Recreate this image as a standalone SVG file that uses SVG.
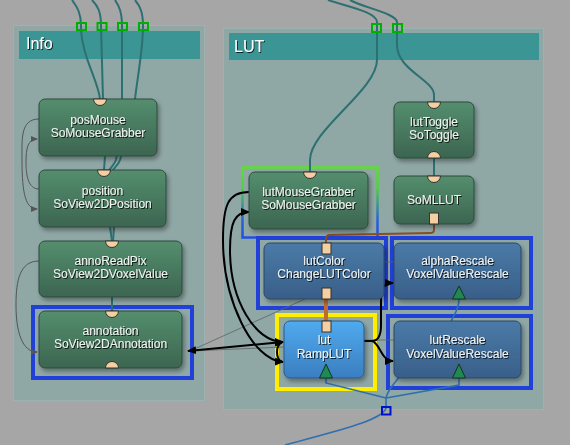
<svg xmlns="http://www.w3.org/2000/svg" width="570" height="445" viewBox="0 0 570 445">
<defs>
<linearGradient id="gG" x1="0" y1="0" x2="0" y2="1"><stop offset="0" stop-color="#548e6e"/><stop offset="1" stop-color="#3c6550"/></linearGradient>
<linearGradient id="gB" x1="0" y1="0" x2="0" y2="1"><stop offset="0" stop-color="#4b7aa8"/><stop offset="1" stop-color="#385f88"/></linearGradient>
<linearGradient id="gL" x1="0" y1="0" x2="0" y2="1"><stop offset="0" stop-color="#50aaee"/><stop offset="1" stop-color="#3a7ec0"/></linearGradient>
<linearGradient id="gSel" x1="0" y1="0" x2="0" y2="1"><stop offset="0" stop-color="#5ce030"/><stop offset="0.3" stop-color="#50d040"/><stop offset="0.75" stop-color="#2a60d8"/><stop offset="1" stop-color="#2050e0"/></linearGradient>
<filter id="sh" x="-20%" y="-20%" width="150%" height="160%"><feDropShadow dx="2" dy="3" stdDeviation="2" flood-color="#000" flood-opacity="0.35"/></filter>
<filter id="ts" x="-10%" y="-30%" width="130%" height="160%"><feDropShadow dx="1" dy="1" stdDeviation="0.4" flood-color="#000" flood-opacity="0.75"/></filter>
<marker id="ab" markerUnits="userSpaceOnUse" markerWidth="9" markerHeight="8" refX="8" refY="4" orient="auto-start-reverse"><path d="M0,0 L9,4 L0,8 Z" fill="#000"/></marker>
<marker id="ag" markerUnits="userSpaceOnUse" markerWidth="7" markerHeight="6" refX="6" refY="3" orient="auto-start-reverse"><path d="M0,0 L7,3 L0,6 Z" fill="#555"/></marker>
<style>
.panel{fill:#8fa7a5;stroke:#9cb2b0;stroke-width:1}
.hdr{fill:#3a9594}
.htxt{font-family:"Liberation Sans",Arial,sans-serif;font-size:16px;fill:#fff;filter:url(#ts)}
.nG{fill:url(#gG);stroke:#2d4a3c;stroke-width:1;filter:url(#sh)}
.nB{fill:url(#gB);stroke:#2b4766;stroke-width:1;filter:url(#sh)}
.nL{fill:url(#gL);stroke:#2b5a88;stroke-width:1;filter:url(#sh)}
.t{font-family:"Liberation Sans",Arial,sans-serif;font-size:12px;fill:#f0f2f0;text-anchor:middle;filter:url(#ts)}
.pin{fill:#f3cfa2;stroke:#333;stroke-width:1}
.tri{fill:#1e8a52;stroke:#17301f;stroke-width:1}
.sq{fill:none;stroke:#00b000;stroke-width:2}
.teal{fill:none;stroke:#2d7072;stroke-width:2}
.blk{fill:none;stroke:#000;stroke-width:2}
.gry{fill:none;stroke:#555;stroke-width:1}
.thin{fill:none;stroke:#5e6464;stroke-width:0.8}
.blu{fill:none;stroke:#2f6fae;stroke-width:1.6}
.sel{fill:none;stroke:#2040d8;stroke-width:4}
</style>
</defs>
<rect x="0" y="0" width="570" height="445" fill="#a6a6a6"/>

<g id="panel-info">
<rect class="panel" x="13.5" y="25.5" width="191" height="375"/>
<rect class="hdr" x="19" y="31" width="181" height="28"/>
<text class="htxt" x="26" y="49">Info</text>
</g>
<g id="panel-lut">
<rect class="panel" x="223.5" y="28.5" width="320" height="381"/>
<rect class="hdr" x="229" y="33" width="310" height="27"/>
<text class="htxt" x="234" y="52">LUT</text>
</g>

<g id="selection">
<rect class="sel" x="33" y="307" width="159" height="71"/>
<rect x="242.5" y="167.5" width="135" height="70" fill="none" stroke="url(#gSel)" stroke-width="2.5"/>
<rect class="sel" x="258" y="238" width="128" height="70"/>
<rect class="sel" x="392" y="238" width="139" height="70"/>
<rect x="277" y="315" width="98" height="74" fill="none" stroke="#ffee00" stroke-width="4"/>
<rect class="sel" x="388" y="316" width="143" height="72"/>
</g>

<g id="connectors">
<path class="teal" d="M72,0 C78,8 81,14 81,26 C81,55 98,80 100,99"/>
<path class="teal" d="M92,0 C98,6 101,12 101,26 L103,99"/>
<path class="teal" d="M115,0 C119,6 122,12 122,26 L122,99 C122,130 118,150 116,160 C114,165 110,168 108,172"/>
<path class="teal" d="M135,0 C140,6 143,12 143,26 C143,50 137,80 135,99 C132,120 124,145 120,160 C118,166 113,168 112,172"/>
<path class="teal" d="M105,156 L104,170"/>
<path class="teal" d="M110,227 L112,241"/>
<path class="teal" d="M114,227 L113,241"/>
<path class="teal" d="M112,297 L112,311"/>
<path class="teal" d="M328,0 C345,6 377,12 377,22 L377,60 C377,90 310,130 310,160 L310,172"/>
<path class="teal" d="M350,0 C365,8 397,14 397,22 L397,45 C397,70 434,80 434,95 L434,102"/>
<path class="teal" d="M434,158 L434,176"/>

<path class="gry" d="M39,119 C20,119 22,140 22,160 C22,195 26,209 37,209" marker-end="url(#ag)"/>
<path class="gry" d="M39,189 C28,189 26,175 26,162 C26,148 28,139 37,139" marker-end="url(#ag)"/>
<path class="gry" d="M39,261 C20,261 16,280 16,305 C16,340 26,352 37,352" marker-end="url(#ag)"/>

<path d="M434,224 L434,230 Q434,233 430,233 L330,235 Q326,235 326,239 L326,243" fill="none" stroke="#8a4e20" stroke-width="2"/>
<path d="M326,299 L326,321" fill="none" stroke="#c06a30" stroke-width="4"/>

<path class="thin" d="M190,351 L305,299"/>
<path class="thin" d="M190,351 L284,347"/>
<path class="thin" d="M384,262 L394,262"/>
<path class="thin" d="M364,340 L394,340"/>

<path class="blk" d="M188,351 L283,342" marker-start="url(#ab)" marker-end="url(#ab)"/>
<path class="blk" d="M249,192 C228,192 223,205 223,240 C223,300 252,360 283,362" marker-end="url(#ab)"/>
<path class="blk" d="M249,212 C235,212 230,222 230,250 C230,300 255,342 283,342" marker-start="url(#ab)" marker-end="url(#ab)"/>
<path class="blk" d="M282,342 C278,344 277,348 277,352 C277,356 278,360 282,362"/>
<path class="blk" d="M364,341 L372,341 C378,341 381,336 381,325 L381,295 C381,287 384,283 393,283" marker-end="url(#ab)"/>
<path class="blk" d="M372,341 C380,343 381,361 393,361" marker-end="url(#ab)"/>

<path class="blu" d="M326,378 L326,383 L386,398"/>
<path class="blu" d="M459,378 L459,385 L386,398"/>
<path class="blu" d="M459,299 C459,311 453,315 451,322 L400,376 C392,386 387,392 386,398"/>
<path class="blu" d="M386,398 L386,408 C383,420 340,430 285,445"/>
</g>

<g id="ports-top">
<rect class="sq" x="77" y="23" width="9" height="7"/>
<rect class="sq" x="97.5" y="23" width="9" height="7"/>
<rect class="sq" x="118" y="23" width="9" height="7"/>
<rect class="sq" x="139" y="23" width="9" height="7"/>
<rect class="sq" x="372" y="24" width="9" height="8"/>
<rect class="sq" x="393" y="24" width="9" height="8"/>
<rect x="382" y="407" width="8.5" height="7.5" fill="none" stroke="#0010d0" stroke-width="2"/>
</g>

<g id="node-posMouse">
<rect class="nG" x="39" y="99" width="118" height="57" rx="6"/>
<path class="pin" d="M93.5,99 A6.5,6.5 0 0 0 106.5,99 Z"/>
<text class="t" x="98" y="124">posMouse</text>
<text class="t" x="98" y="137">SoMouseGrabber</text>
</g>
<g id="node-position">
<rect class="nG" x="39" y="170" width="127" height="57" rx="6"/>
<path class="pin" d="M97.5,170 A6.5,6.5 0 0 0 110.5,170 Z"/>
<text class="t" x="102.5" y="195">position</text>
<text class="t" x="102.5" y="208">SoView2DPosition</text>
</g>
<g id="node-annoReadPix">
<rect class="nG" x="39" y="241" width="143" height="56" rx="6"/>
<path class="pin" d="M105.5,241 A6.5,6.5 0 0 0 118.5,241 Z"/>
<text class="t" x="110.5" y="265">annoReadPix</text>
<text class="t" x="110.5" y="278">SoView2DVoxelValue</text>
</g>
<g id="node-annotation">
<rect class="nG" x="39" y="311" width="143" height="57" rx="6"/>
<path class="pin" d="M105.5,311 A6.5,6.5 0 0 0 118.5,311 Z"/>
<path class="pin" d="M105.5,368 A6.5,6.5 0 0 1 118.5,368 Z"/>
<text class="t" x="110.5" y="335">annotation</text>
<text class="t" x="110.5" y="348">SoView2DAnnotation</text>
</g>

<g id="node-lutMouseGrabber">
<rect class="nG" x="249" y="172" width="119" height="57" rx="6"/>
<path class="pin" d="M303.5,172 A6.5,6.5 0 0 0 316.5,172 Z"/>
<text class="t" x="308.5" y="196">lutMouseGrabber</text>
<text class="t" x="308.5" y="209">SoMouseGrabber</text>
</g>
<g id="node-lutToggle">
<rect class="nG" x="394" y="102" width="80" height="56" rx="6"/>
<path class="pin" d="M427.5,102 A6.5,6.5 0 0 0 440.5,102 Z"/>
<path class="pin" d="M427.5,158 A6.5,6.5 0 0 1 440.5,158 Z"/>
<text class="t" x="434" y="126">lutToggle</text>
<text class="t" x="434" y="139">SoToggle</text>
</g>
<g id="node-SoMLLUT">
<rect class="nG" x="394" y="176" width="80" height="48" rx="6"/>
<path class="pin" d="M427.5,176 A6.5,6.5 0 0 0 440.5,176 Z"/>
<rect class="pin" x="429.5" y="213" width="9" height="11"/>
<text class="t" x="434" y="203.5">SoMLLUT</text>
</g>
<g id="node-lutColor">
<rect class="nB" x="264" y="243" width="120" height="56" rx="6"/>
<rect class="pin" x="322" y="243" width="9" height="11"/>
<rect class="pin" x="322" y="288" width="9" height="11"/>
<text class="t" x="324" y="265">lutColor</text>
<text class="t" x="324" y="278">ChangeLUTColor</text>
</g>
<g id="node-alphaRescale">
<rect class="nB" x="394" y="243" width="127" height="56" rx="6"/>
<path class="tri" d="M452.5,299 L459,286 L465.5,299 Z"/>
<text class="t" x="457.5" y="265">alphaRescale</text>
<text class="t" x="457.5" y="278">VoxelValueRescale</text>
</g>
<g id="node-lut">
<rect class="nL" x="284" y="321" width="80" height="57" rx="6"/>
<rect class="pin" x="322" y="321" width="9" height="11"/>
<path class="tri" d="M319.5,378 L326,364 L332.5,378 Z"/>
<text class="t" x="324" y="344">lut</text>
<text class="t" x="324" y="358">RampLUT</text>
</g>
<g id="node-lutRescale">
<rect class="nB" x="394" y="321" width="127" height="57" rx="6"/>
<path class="tri" d="M452.5,378 L459,364 L465.5,378 Z"/>
<text class="t" x="457.5" y="344">lutRescale</text>
<text class="t" x="457.5" y="358">VoxelValueRescale</text>
</g>
</svg>
